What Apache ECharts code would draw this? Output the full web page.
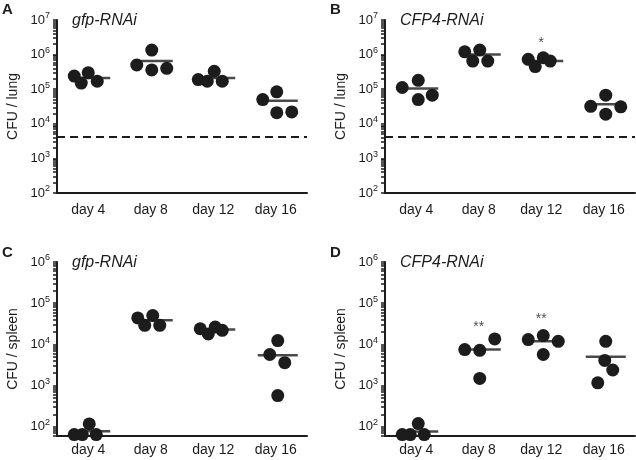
<!DOCTYPE html>
<html lang="en">
<head>
<meta charset="UTF-8">
<title>CFU per organ</title>
<script src="https://cdn.jsdelivr.net/npm/echarts@6/dist/echarts.min.js"></script>
<style>
  html, body { margin: 0; background: #fff; }
  #main { width: 636px; height: 460px; }
</style>
</head>
<body>
<div id="main"></div>
<script>
var days = ['day 4', 'day 8', 'day 12', 'day 16'];
var lungTicks = [1e2, 1e3, 1e4, 1e5, 1e6, 1e7];
var spleenTicks = [1e2, 1e3, 1e4, 1e5, 1e6];

// A - lung, gfp-RNAi (4 animals per day)
var lungGfp = [
    [2.4e5, 1.5e5, 3.0e5, 1.7e5],
    [5.0e5, 1.35e6, 3.6e5, 4.0e5],
    [1.9e5, 1.7e5, 3.3e5, 1.7e5],
    [5.0e4, 8.4e4, 2.1e4, 2.2e4]
];
var lungGfpMean = [2.1e5, 6.5e5, 2.1e5, 4.6e4];

// B - lung, CFP4-RNAi
var lungCfp4 = [
    [1.12e5, 1.8e5, 5.0e4, 6.7e4],
    [1.2e6, 6.5e5, 1.35e6, 6.5e5],
    [7.3e5, 4.5e5, 8.1e5, 6.5e5],
    [3.2e4, 6.7e4, 1.9e4, 3.1e4]
];
var lungCfp4Mean = [1.05e5, 1.0e6, 6.5e5, 3.7e4];

// C - spleen, gfp-RNAi
var spleenGfp = [
    [65, 65, 118, 65],
    [4.4e4, 2.9e4, 5.0e4, 2.9e4],
    [2.4e4, 1.8e4, 2.65e4, 2.2e4],
    [5.7e3, 1.24e4, 3.6e3, 575]
];
var spleenGfpMean = [78, 3.85e4, 2.3e4, 5.5e3];

// D - spleen, CFP4-RNAi
var spleenCfp4 = [
    [65, 65, 120, 65],
    [7.5e3, 7.2e3, 1.36e4, 1.5e3],
    [1.31e4, 1.64e4, 5.7e3, 1.19e4],
    [1.19e4, 4.1e3, 2.4e3, 1.17e3]
];
var spleenCfp4Mean = [77, 7.5e3, 1.19e4, 5.0e3];

// detection limit (lung only)
var lungLimit = 4200;

// significance marks: [day index, value where the mark sits, text]
var lungCfp4Sig = [[2, 2.2e6, '*']];
var spleenCfp4Sig = [[1, 2.7e4, '**'], [2, 4.0e4, '**']];

// horizontal spread of the dots inside a day (px), same order as the values
var jitterA = [[-14, -7, 0, 9], [-14, 1, 1, 16], [-15, -6, 1, 9], [-13, 1, 1, 16]];
var jitterB = [[-14, 2, 2, 16], [-14, -6, 1, 9], [-13, -6, 2, 9], [-13, 2, 2, 17]];
var jitterC = [[-14, -6, 1, 8], [-13, -6, 2, 9], [-13, -5, 2, 9], [-6, 2, 9, 2]];
var jitterD = [[-14, -6, 2, 8], [-14, 1, 16, 1], [-13, 2, 2, 17], [2, 1, 9, -6]];

var font = '"Liberation Sans", Arial, Helvetica, sans-serif';
var ink = '#1c1c1c';

// decades plus the 2..9 steps in between
function logTicks(min, max) {
    var out = [];
    for (var e = Math.floor(Math.log10(min)); Math.pow(10, e) <= max; e++) {
        for (var k = 1; k <= 9; k++) {
            var v = k * Math.pow(10, e);
            if (v >= min && v <= max) out.push(v);
        }
    }
    return out;
}

var panels = [
    {letter: 'A', label: 'gfp-RNAi', yName: 'CFU / lung', left: 57, top: 20, height: 173,
     min: 100, max: 1e7, ticks: lungTicks, values: lungGfp, means: lungGfpMean, jitter: jitterA,
     limit: lungLimit, sig: [], margin: 10, letterTop: 2, labelTop: 13},
    {letter: 'B', label: 'CFP4-RNAi', yName: 'CFU / lung', left: 385, top: 20, height: 173,
     min: 100, max: 1e7, ticks: lungTicks, values: lungCfp4, means: lungCfp4Mean, jitter: jitterB,
     limit: lungLimit, sig: lungCfp4Sig, margin: 10, letterTop: 2, labelTop: 13},
    {letter: 'C', label: 'gfp-RNAi', yName: 'CFU / spleen', left: 57, top: 262, height: 174,
     min: 60, max: 1e6, ticks: spleenTicks, values: spleenGfp, means: spleenGfpMean, jitter: jitterC,
     limit: null, sig: [], margin: 7, letterTop: 245, labelTop: 255},
    {letter: 'D', label: 'CFP4-RNAi', yName: 'CFU / spleen', left: 385, top: 262, height: 174,
     min: 60, max: 1e6, ticks: spleenTicks, values: spleenCfp4, means: spleenCfp4Mean, jitter: jitterD,
     limit: null, sig: spleenCfp4Sig, margin: 7, letterTop: 245, labelTop: 255}
];

var grids = [], xAxes = [], yAxes = [], series = [], titles = [];

panels.forEach(function (p, i) {
    grids.push({left: p.left, top: p.top, width: 250, height: p.height, outerBoundsMode: 'none'});

    titles.push({text: p.letter, left: p.left - 55, top: p.letterTop, padding: 0,
        textStyle: {fontSize: 15, fontWeight: 'bold', color: ink, fontFamily: font}});
    titles.push({text: p.label, left: p.left + 15, top: p.labelTop, padding: 0,
        textStyle: {fontSize: 16, fontStyle: 'italic', fontWeight: 'normal', color: ink, fontFamily: font}});

    xAxes.push({
        type: 'category', gridIndex: i, data: days, boundaryGap: true,
        axisLine: {onZero: false, lineStyle: {color: ink, width: 2}},
        axisTick: {show: false},
        axisLabel: {fontSize: 14, color: ink, fontFamily: font, margin: p.margin},
        splitLine: {show: false}
    });

    yAxes.push({
        type: 'log', logBase: 10, gridIndex: i, position: 'left', min: p.min, max: p.max,
        name: p.yName, nameLocation: 'middle', nameGap: 37,
        nameTextStyle: {fontSize: 14, color: ink, fontFamily: font},
        axisLine: {show: true, onZero: false, lineStyle: {color: ink, width: 2}},
        axisTick: {show: true, length: 4, customValues: logTicks(p.min, p.max), lineStyle: {color: ink, width: 1.5}},
        axisLabel: {
            customValues: p.ticks, fontSize: 13, color: ink, fontFamily: font, margin: 7,
            formatter: function (v) { return '10{s|' + Math.round(Math.log10(v)) + '}'; },
            rich: {s: {fontSize: 9, color: ink, fontFamily: font, padding: [0, 0, 8, 0]}}
        },
        splitLine: {show: false}
    });

    var dots = [];
    p.values.forEach(function (vals, d) {
        vals.forEach(function (v, k) {
            dots.push({value: [d, v], symbolOffset: [p.jitter[d][k], 0]});
        });
    });
    var dotSeries = {
        type: 'scatter', xAxisIndex: i, yAxisIndex: i, data: dots,
        symbol: 'circle', symbolSize: 13, itemStyle: {color: ink, opacity: 1},
        clip: false, silent: true
    };
    if (p.limit) {
        dotSeries.markLine = {
            silent: true, symbol: ['none', 'none'], label: {show: false},
            lineStyle: {color: ink, width: 2, type: [8, 5]},
            data: [{yAxis: p.limit}]
        };
    }
    series.push(dotSeries);

    series.push({
        type: 'scatter', xAxisIndex: i, yAxisIndex: i,
        data: p.means.map(function (m, d) { return [d, m]; }),
        symbol: 'rect', symbolSize: [40, 2.5], symbolOffset: [2, 0],
        itemStyle: {color: ink}, clip: false, silent: true, z: 3
    });

    if (p.sig.length) {
        series.push({
            type: 'scatter', xAxisIndex: i, yAxisIndex: i,
            data: p.sig.map(function (s) { return {value: [s[0], s[1]], mark: s[2]}; }),
            symbol: 'circle', symbolSize: 1, itemStyle: {color: 'rgba(0,0,0,0)'},
            label: {show: true, position: 'inside', fontSize: 14, color: ink, fontFamily: font,
                formatter: function (params) { return params.data.mark; }},
            silent: true
        });
    }
});

var chart = echarts.init(document.getElementById('main'));
chart.setOption({
    animation: false,
    backgroundColor: '#fff',
    title: titles,
    grid: grids,
    xAxis: xAxes,
    yAxis: yAxes,
    series: series
});
</script>
</body>
</html>
